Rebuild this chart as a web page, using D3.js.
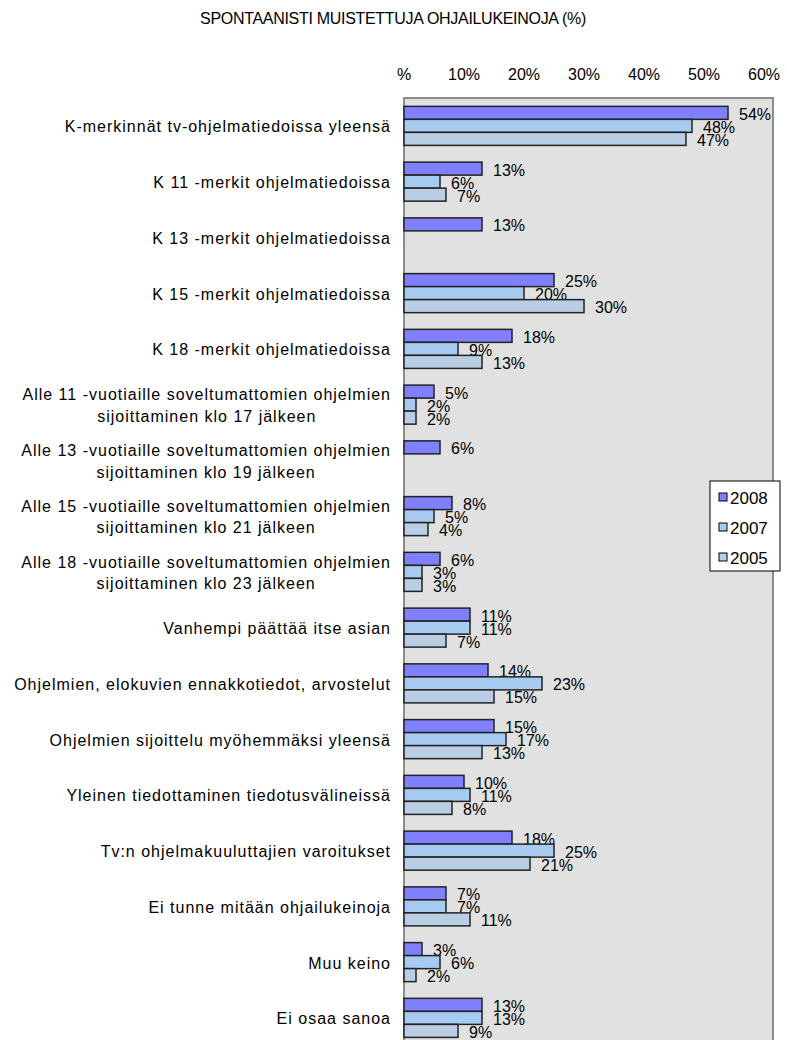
<!DOCTYPE html>
<html>
<head>
<meta charset="utf-8">
<script src="https://cdn.jsdelivr.net/npm/d3@7"></script>
<style>
  body { margin: 0; background: #fff; }
  svg text { font-family: "Liberation Sans", Arial, sans-serif; fill: #000; }
</style>
</head>
<body>
<svg id="chart" width="787" height="1040"></svg>
<script>
// categories, each entry is a list of lines
var categories = [
  ["K-merkinnät tv-ohjelmatiedoissa yleensä"],
  ["K 11 -merkit ohjelmatiedoissa"],
  ["K 13 -merkit ohjelmatiedoissa"],
  ["K 15 -merkit ohjelmatiedoissa"],
  ["K 18 -merkit ohjelmatiedoissa"],
  ["Alle 11 -vuotiaille soveltumattomien ohjelmien", "sijoittaminen klo 17 jälkeen"],
  ["Alle 13 -vuotiaille soveltumattomien ohjelmien", "sijoittaminen klo 19 jälkeen"],
  ["Alle 15 -vuotiaille soveltumattomien ohjelmien", "sijoittaminen klo 21 jälkeen"],
  ["Alle 18 -vuotiaille soveltumattomien ohjelmien", "sijoittaminen klo 23 jälkeen"],
  ["Vanhempi päättää itse asian"],
  ["Ohjelmien, elokuvien ennakkotiedot, arvostelut"],
  ["Ohjelmien sijoittelu myöhemmäksi yleensä"],
  ["Yleinen tiedottaminen tiedotusvälineissä"],
  ["Tv:n ohjelmakuuluttajien varoitukset"],
  ["Ei tunne mitään ohjailukeinoja"],
  ["Muu keino"],
  ["Ei osaa sanoa"]
];

var series = ["2008", "2007", "2005"];
var v2008 = [54, 13, 13, 25, 18, 5, 6, 8, 6, 11, 14, 15, 10, 18, 7, 3, 13];
var v2007 = [48, 6, null, 20, 9, 2, null, 5, 3, 11, 23, 17, 11, 25, 7, 6, 13];
var v2005 = [47, 7, null, 30, 13, 2, null, 4, 3, 7, 15, 13, 8, 21, 11, 2, 9];
var colors = ["#8080ff", "#a6caf0", "#b9cde5"];
var ticks = [0, 10, 20, 30, 40, 50, 60];
var tickLabels = ["%", "10%", "20%", "30%", "40%", "50%", "60%"];

var svg = d3.select("#chart");

var plotL = 404, plotR = 773, plotT = 98, band = 55.75;
var plotB = plotT + band * categories.length;

var x = d3.scaleLinear().domain([0, 61.5]).range([plotL, plotR]);
var y = d3.scaleBand().domain(d3.range(categories.length)).range([plotT, plotB]).paddingInner(0.3).paddingOuter(0.15);
var y1 = d3.scaleBand().domain(series).range([0, y.bandwidth()]);

// title
svg.append("text")
  .attr("x", 393).attr("y", 23.5)
  .attr("text-anchor", "middle")
  .style("font-size", "16px")
  .style("letter-spacing", "-0.3px")
  .text("SPONTAANISTI MUISTETTUJA OHJAILUKEINOJA (%)");

// plot area
svg.append("rect")
  .attr("x", plotL).attr("y", plotT)
  .attr("width", plotR - plotL).attr("height", plotB - plotT)
  .attr("fill", "#e1e1e1")
  .attr("stroke", "#8c8c8c")
  .attr("stroke-width", 2);

// top axis labels
svg.selectAll(".tick")
  .data(ticks)
  .enter().append("text")
  .attr("class", "tick")
  .attr("x", function(d) { return x(d); })
  .attr("y", 80)
  .attr("text-anchor", "middle")
  .style("font-size", "16px")
  .text(function(d, i) { return tickLabels[i]; });

// category labels
var lab = svg.selectAll(".cat")
  .data(categories)
  .enter().append("g")
  .attr("class", "cat");

lab.each(function(lines, i) {
  var g = d3.select(this);
  var cy = y(i) + y.bandwidth() / 2 + 1;
  var lh = 21.5;
  var texts = lines.map(function(l, j) {
    return g.append("text")
      .attr("y", cy + (j - (lines.length - 1) / 2) * lh)
      .attr("dy", "0.35em")
      .attr("text-anchor", "middle")
      .style("font-size", "16px")
      .style("letter-spacing", "1px")
      .text(l);
  });
  var w = d3.max(texts, function(t) { return t.node().getComputedTextLength(); });
  texts.forEach(function(t) { t.attr("x", 391 - w / 2); });
});

// bars
var all = [v2008, v2007, v2005];
series.forEach(function(s, k) {
  var g = svg.append("g");
  var data = all[k].map(function(v, i) { return {i: i, v: v}; }).filter(function(d) { return d.v != null; });
  g.selectAll("rect")
    .data(data)
    .enter().append("rect")
    .attr("x", x(0))
    .attr("y", function(d) { return y(d.i) + y1(s); })
    .attr("width", function(d) { return x(d.v) - x(0); })
    .attr("height", y1.bandwidth())
    .attr("fill", colors[k])
    .attr("stroke", "#222")
    .attr("stroke-width", 1.5);
  g.selectAll("text")
    .data(data)
    .enter().append("text")
    .attr("x", function(d) { return x(d.v) + 11; })
    .attr("y", function(d) { return y(d.i) + y1(s) + y1.bandwidth() / 2 + 1.5; })
    .attr("dy", "0.35em")
    .style("font-size", "16px")
    .text(function(d) { return d.v + "%"; });
});

// legend
var leg = svg.append("g").attr("transform", "translate(710,481)");
leg.append("rect")
  .attr("width", 70).attr("height", 90)
  .attr("fill", "#fff").attr("stroke", "#000");
series.forEach(function(s, k) {
  leg.append("rect")
    .attr("x", 9).attr("y", 12 + k * 30)
    .attr("width", 8).attr("height", 8)
    .attr("fill", colors[k]).attr("stroke", "#000");
  leg.append("text")
    .attr("x", 20).attr("y", 17 + k * 30)
    .attr("dy", "0.35em")
    .style("font-size", "17px")
    .text(s);
});
</script>
</body>
</html>
